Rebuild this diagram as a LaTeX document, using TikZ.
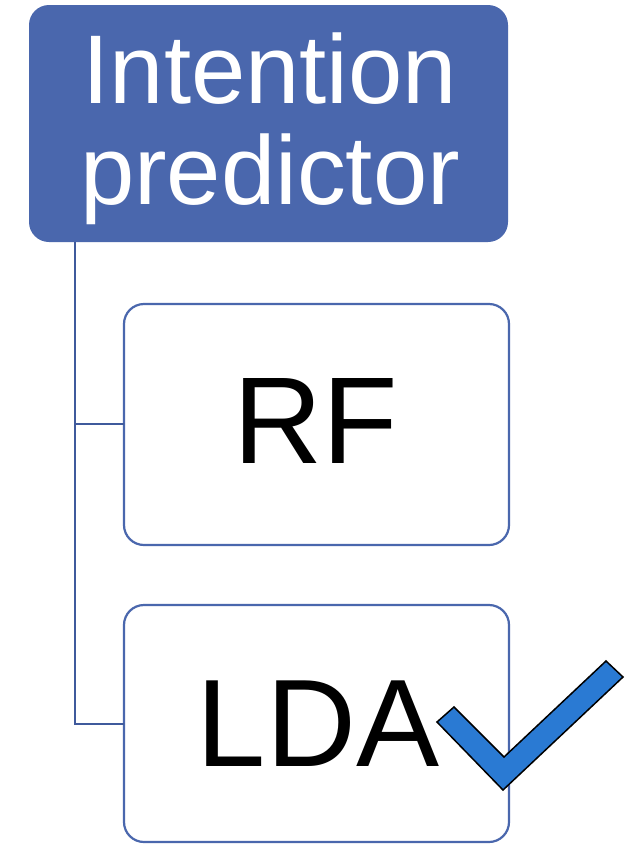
\documentclass[tikz,border=0pt]{standalone}
\usepackage{fontspec}
\setmainfont{Liberation Sans}
\definecolor{hdrblue}{HTML}{4A67AD}
\definecolor{linkblue}{HTML}{3F5A9C}
\definecolor{tickblue}{HTML}{2A7AD3}
\begin{document}
\begin{tikzpicture}[x=1bp,y=-1bp,
  header/.style={draw=none,fill=hdrblue,rounded corners=20bp},
  headtext/.style={text=white,inner sep=0pt,anchor=base,font=\fontsize{98}{98}\selectfont},
  leaf/.style={draw=hdrblue,line width=2.2bp,fill=white,rounded corners=20bp},
  leaftext/.style={text=black,inner sep=0pt,anchor=base},
  link/.style={draw=linkblue,line width=2.2bp}]
\useasboundingbox (0,0) rectangle (631,844);
\fill[white] (0,0) rectangle (631,844);
% header box
\path[header] (29,5) rectangle (508,242);
\node[headtext] (head1) at (270,103) {Intention};
\node[headtext] (head2) at (270,204) {predictor};
\coordinate (hb) at (75,242);
% leaf boxes
\path[leaf] (124,304) rectangle (509,545);
\node[leaftext,font=\fontsize{124}{124}\selectfont] (rf) at (316,463) {RF};
\path[leaf] (124,605) rectangle (509,842);
\node[leaftext,font=\fontsize{125}{125}\selectfont] (lda) at (318,766) {LDA};
\coordinate (rfl) at (124,424);
\coordinate (ldal) at (124,724);
% tree connector
\draw[link] (hb) -- (75,724) -- (ldal);
\draw[link] (75,424) -- (rfl);
% check mark
\filldraw[fill=tickblue,draw=black,line width=1.5bp,line join=miter]
  (454,707) -- (504,757) -- (606,661) -- (623,677) -- (503,790) -- (437,722) -- cycle;
\end{tikzpicture}
\end{document}
